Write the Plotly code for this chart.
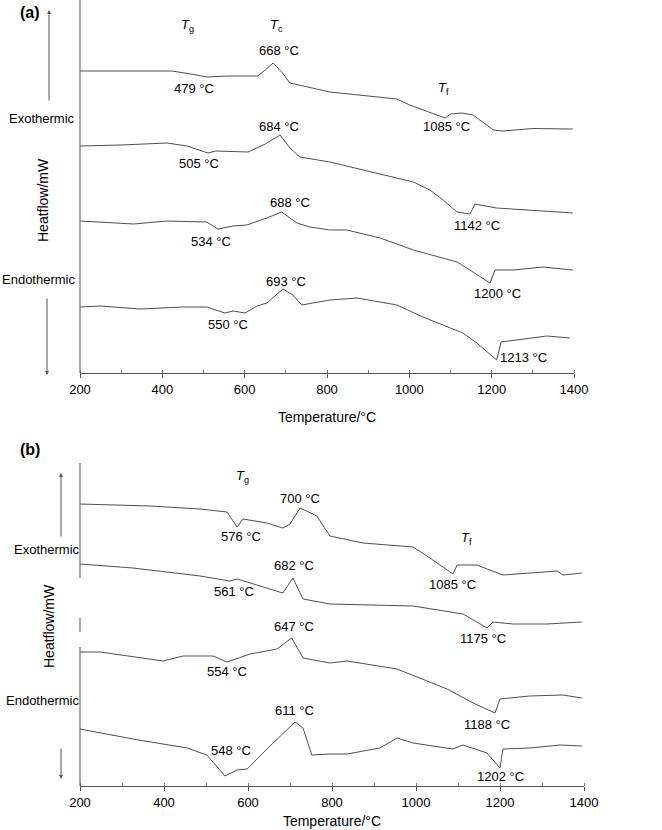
import plotly.graph_objects as go

# ---- panel (a): Cu series, temperature (°C) vs heat flow (arb. offset units)
t_10cu = [200, 300, 423, 470, 508, 560, 632, 650, 669, 690, 710, 807, 970, 1001, 1050, 1087, 1100, 1128, 1155, 1180, 1204, 1228, 1300, 1397]
hf_10cu = [30.2, 30.2, 30.2, 29.9, 29.6, 29.7, 29.7, 30.3, 31.0, 30.1, 29.0, 28.1, 27.4, 26.8, 26.1, 25.5, 25.9, 26.0, 25.8, 25.0, 24.3, 24.2, 24.45, 24.4]

t_5cu = [200, 300, 411, 460, 511, 530, 608, 650, 686, 710, 734, 807, 888, 1010, 1050, 1082, 1116, 1147, 1155, 1159, 1212, 1293, 1397]
hf_5cu = [22.7, 22.8, 23.0, 22.7, 22.0, 22.2, 22.1, 22.9, 23.8, 22.5, 21.6, 21.1, 20.3, 19.1, 18.3, 17.3, 16.1, 15.9, 16.5, 16.9, 16.5, 16.3, 16.0]

t_1cu = [200, 330, 411, 508, 535, 572, 605, 654, 690, 727, 759, 807, 848, 929, 1010, 1116, 1147, 1196, 1208, 1252, 1325, 1397]
hf_1cu = [15.2, 14.9, 15.2, 15.1, 14.4, 14.7, 14.8, 15.5, 16.1, 15.0, 14.6, 14.3, 14.3, 13.5, 12.3, 11.1, 10.3, 9.0, 10.3, 10.3, 10.6, 10.3]

t_01cu = [200, 249, 346, 450, 508, 552, 572, 601, 630, 654, 693, 717, 739, 807, 873, 970, 1033, 1130, 1164, 1212, 1223, 1261, 1334, 1390]
hf_01cu = [6.6, 6.7, 6.4, 6.6, 6.6, 6.0, 6.2, 6.0, 6.7, 7.0, 8.4, 7.8, 6.8, 7.3, 7.5, 6.8, 5.6, 4.0, 3.0, 1.3, 3.1, 3.3, 3.7, 3.5]

# ---- panel (b): Ti series
t_10ti = [200, 367, 486, 550, 574, 588, 645, 683, 700, 724, 764, 795, 874, 993, 1033, 1088, 1098, 1145, 1207, 1336, 1350, 1395]
hf_10ti = [28.2, 28.0, 27.7, 27.4, 25.9, 26.7, 26.3, 25.8, 26.2, 27.8, 27.0, 25.0, 24.3, 23.9, 22.8, 21.2, 22.1, 22.1, 21.1, 21.5, 21.1, 21.3]

t_5ti = [200, 326, 486, 557, 574, 683, 707, 731, 795, 993, 1112, 1169, 1183, 1231, 1312, 1395]
hf_5ti = [22.2, 21.8, 21.0, 20.5, 20.7, 19.3, 20.8, 18.7, 18.2, 18.0, 17.2, 15.8, 16.4, 16.2, 16.2, 16.4]

t_1ti = [200, 248, 398, 445, 517, 550, 605, 669, 704, 731, 795, 836, 955, 1074, 1136, 1188, 1200, 1271, 1350, 1395]
hf_1ti = [13.4, 13.4, 12.5, 13.0, 13.0, 12.4, 13.2, 13.7, 14.8, 12.8, 12.3, 12.5, 11.7, 9.7, 8.3, 7.3, 8.7, 9.0, 9.1, 8.8]

t_01ti = [200, 326, 455, 502, 545, 574, 598, 645, 712, 731, 752, 795, 836, 914, 955, 993, 1088, 1112, 1169, 1200, 1207, 1271, 1343, 1395]
hf_01ti = [5.7, 4.7, 3.8, 3.1, 1.0, 1.6, 1.7, 3.7, 6.4, 5.8, 3.1, 3.2, 3.2, 3.8, 4.8, 4.3, 3.7, 4.1, 3.3, 1.8, 3.7, 3.8, 4.1, 4.0]

names_a = ['46S6-10Cu', '46S6-5Cu', '46S6-1Cu', '46S6-0.1Cu']
names_b = ['46S6-10Ti', '46S6-5Ti', '46S6-1Ti', '46S6-0.1Ti']

# peak labels: (text, temperature, heat flow)
labels_a = [('668 °C', 683, 32.3), ('479 °C', 477, 28.5), ('684 °C', 683, 24.7), ('505 °C', 489, 21.0),
            ('688 °C', 710, 17.1), ('534 °C', 518, 13.2), ('693 °C', 700, 9.2), ('550 °C', 559, 4.9),
            ('1085 °C', 1091, 24.7), ('1142 °C', 1164, 14.8), ('1200 °C', 1215, 8.0), ('1213 °C', 1278, 1.6)]
labels_b = [('700 °C', 724, 28.8), ('576 °C', 583, 25.0), ('682 °C', 710, 22.1), ('561 °C', 567, 19.5),
            ('647 °C', 710, 16.0), ('554 °C', 550, 11.5), ('611 °C', 710, 7.6), ('548 °C', 560, 3.6),
            ('1085 °C', 1088, 20.2), ('1175 °C', 1160, 14.8), ('1188 °C', 1169, 6.2), ('1202 °C', 1202, 1.0)]
marks_a = [('<i>T</i><sub>g</sub>', 460, 34.8), ('<i>T</i><sub>c</sub>', 678, 34.8), ('<i>T</i><sub>f</sub>', 1082, 28.5)]
marks_b = [('<i>T</i><sub>g</sub>', 588, 31.0), ('<i>T</i><sub>c</sub>', 717, 34.2), ('<i>T</i><sub>f</sub>', 1121, 24.8)]
name_y_a = [24.2, 16.2, 10.4, 3.7]
name_y_b = [21.2, 16.4, 9.0, 2.3]

W, H = 662, 830
FONT = 'Liberation Sans, Arial, sans-serif'
LINE = '#505050'


def px(x):
    return x / W


def py(y):
    return 1 - y / H


fig = go.Figure()
series_a = [(t_10cu, hf_10cu), (t_5cu, hf_5cu), (t_1cu, hf_1cu), (t_01cu, hf_01cu)]
series_b = [(t_10ti, hf_10ti), (t_5ti, hf_5ti), (t_1ti, hf_1ti), (t_01ti, hf_01ti)]
for (t, hf), name in zip(series_a, names_a):
    fig.add_trace(go.Scatter(x=t, y=hf, mode='lines', name=name, xaxis='x', yaxis='y',
                             line=dict(color=LINE, width=1)))
for (t, hf), name in zip(series_b, names_b):
    fig.add_trace(go.Scatter(x=t, y=hf, mode='lines', name=name, xaxis='x2', yaxis='y2',
                             line=dict(color=LINE, width=1)))

ann = []
for txt, x, y in labels_a + marks_a:
    ann.append(dict(text=txt, x=x, y=y, xref='x', yref='y', showarrow=False, font=dict(size=13)))
for txt, x, y in labels_b + marks_b:
    ann.append(dict(text=txt, x=x, y=y, xref='x2', yref='y2', showarrow=False, font=dict(size=13)))
for name, y in zip(names_a, name_y_a):
    ann.append(dict(text=name, x=1419, y=y, xref='x', yref='y', xanchor='left', showarrow=False, font=dict(size=13)))
for name, y in zip(names_b, name_y_b):
    ann.append(dict(text=name, x=1431, y=y, xref='x2', yref='y2', xanchor='left', showarrow=False, font=dict(size=13)))

# panel decorations (paper coordinates given as pixels from the top-left corner)
side = [('<b>(a)</b>', 30, 12, 16), ('<b>(b)</b>', 30, 449, 16),
        ('Exothermic', 42, 119, 13), ('Endothermic', 38, 279, 13),
        ('Exothermic', 47, 549, 13), ('Endothermic', 42, 700, 13)]
for txt, x, y, s in side:
    ann.append(dict(text=txt, x=px(x), y=py(y), xref='paper', yref='paper', xanchor='center', yanchor='middle',
                    showarrow=False, font=dict(size=s)))
for x, y in [(43, 200), (49, 626)]:
    ann.append(dict(text='Heatflow/mW', x=px(x), y=py(y), xref='paper', yref='paper', xanchor='center',
                    yanchor='middle', showarrow=False, textangle=-90, font=dict(size=14)))
for x, y0, y1 in [(49, 102, 10), (47, 297, 375), (61, 538, 473), (61, 747, 779)]:
    ann.append(dict(text='', x=px(x), y=py(y1), xref='paper', yref='paper', ax=0, ay=y0 - y1,
                    showarrow=True, arrowhead=2, arrowsize=0.8, arrowwidth=1, arrowcolor='#555'))

shapes = []
for y0, y1 in [(0, 373), (463, 578), (618, 632), (647, 786)]:
    shapes.append(dict(type='line', xref='paper', yref='paper', x0=px(80), x1=px(80), y0=py(y0), y1=py(y1),
                       line=dict(color='#555', width=1)))

xcommon = dict(range=[200, 1400], tickvals=[200, 400, 600, 800, 1000, 1200, 1400], ticks='outside',
               ticklen=4, tickcolor='#555', showline=True, linecolor='#555', linewidth=1, showgrid=False,
               zeroline=False, tickfont=dict(size=13), automargin=False,
               minor=dict(dtick=100, ticks='inside', ticklen=3, tickcolor='#777', showgrid=False))
ycommon = dict(visible=False, showgrid=False, zeroline=False, automargin=False)

fig.update_layout(
    width=W, height=H, margin=dict(l=0, r=0, t=0, b=0, autoexpand=False),
    paper_bgcolor='white', plot_bgcolor='white', showlegend=False,
    font=dict(family=FONT, color='black', size=13),
    xaxis=dict(domain=[px(80), px(574)], anchor='y',
               title=dict(text='Temperature/°C', font=dict(size=14), standoff=16), **xcommon),
    yaxis=dict(domain=[py(373), 1], range=[0, 37.3], anchor='x', **ycommon),
    xaxis2=dict(domain=[px(80), px(584)], anchor='y2',
                title=dict(text='Temperature/°C', font=dict(size=14), standoff=7), **xcommon),
    yaxis2=dict(domain=[py(786), py(463)], range=[0, 32.3], anchor='x2', **ycommon),
    annotations=ann, shapes=shapes,
)

# the page's default body margin would push the 662x830 figure out of the window
fig.write_html("out.html", config={'displayModeBar': False},
               post_script="document.body.style.margin = '0';")
